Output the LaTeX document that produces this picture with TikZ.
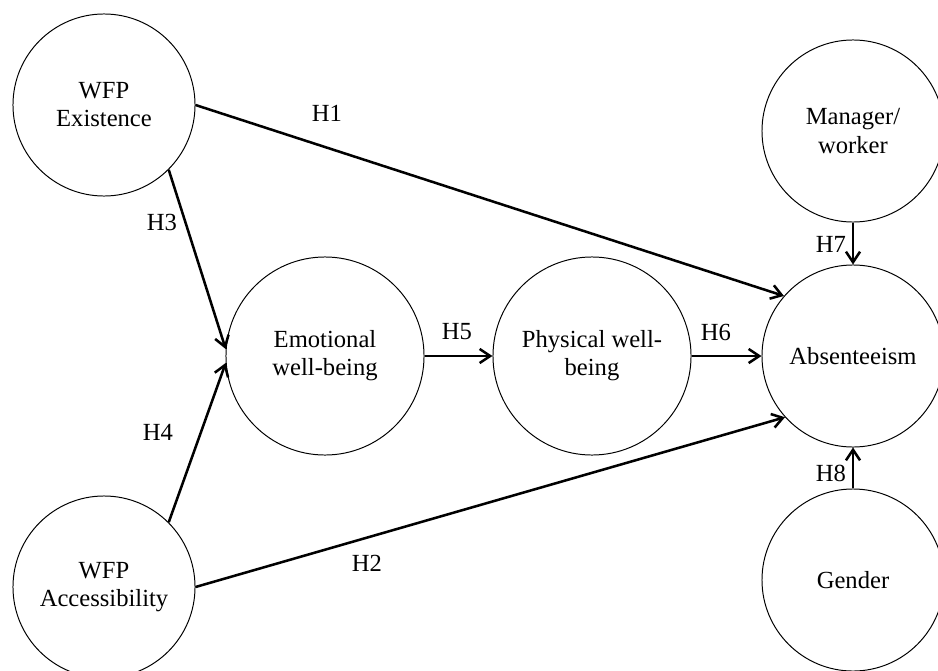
\documentclass[tikz,border=0pt]{standalone}
\usepackage{fontspec}
\setmainfont{Liberation Serif}
\usetikzlibrary{arrows.meta}

\def\bigsize{4.95cm}
\def\smallsize{4.55cm}

\begin{document}
\begin{tikzpicture}[x=0.025cm,y=-0.025cm,
    font=\fontsize{17.5}{20}\selectfont,
    var/.style={draw,circle,line width=0.7pt,inner sep=0pt,align=center,minimum size=\smallsize},
    bigvar/.style={var,minimum size=\bigsize},
    path/.style={line width=1.8pt,-{Straight Barb[length=7.5pt,width=10pt]}},
    hyp/.style={inner sep=0pt}]
    \useasboundingbox (0,0) rectangle (938,670);

    \node[var] (existence) at (104,105) {WFP\\Existence};
    \node[var] (access) at (104,587) {WFP\\Accessibility};
    \node[bigvar] (emotion) at (325,356) {Emotional\\well-being};
    \node[bigvar] (physical) at (592,356) {Physical well-\\being};
    \node[var] (absent) at (853,356) {Absenteeism};
    \node[var] (manager) at (853,131) {Manager/\\worker};
    \node[var] (gender) at (853,580) {Gender};

    \draw[path] (existence.east) -- (absent.139);
    \draw[path] (access.east) -- (absent.222);
    \draw[path] (existence.-45) -- (emotion.176);
    \draw[path] (access.45) -- (emotion.184);
    \draw[path] (emotion.east) -- (physical.west);
    \draw[path] (physical.east) -- (absent.west);
    \draw[path] (manager.south) -- (absent.north);
    \draw[path] (gender.north) -- (absent.south);

    \node[hyp] (h1) at (327,113) {H1};
    \node[hyp] (h2) at (367,563) {H2};
    \node[hyp] (h3) at (162,222) {H3};
    \node[hyp] (h4) at (158,432) {H4};
    \node[hyp] (h5) at (457,332) {H5};
    \node[hyp] (h6) at (716,332) {H6};
    \node[hyp] (h7) at (831,244) {H7};
    \node[hyp] (h8) at (831,473) {H8};

\end{tikzpicture}
\end{document}
